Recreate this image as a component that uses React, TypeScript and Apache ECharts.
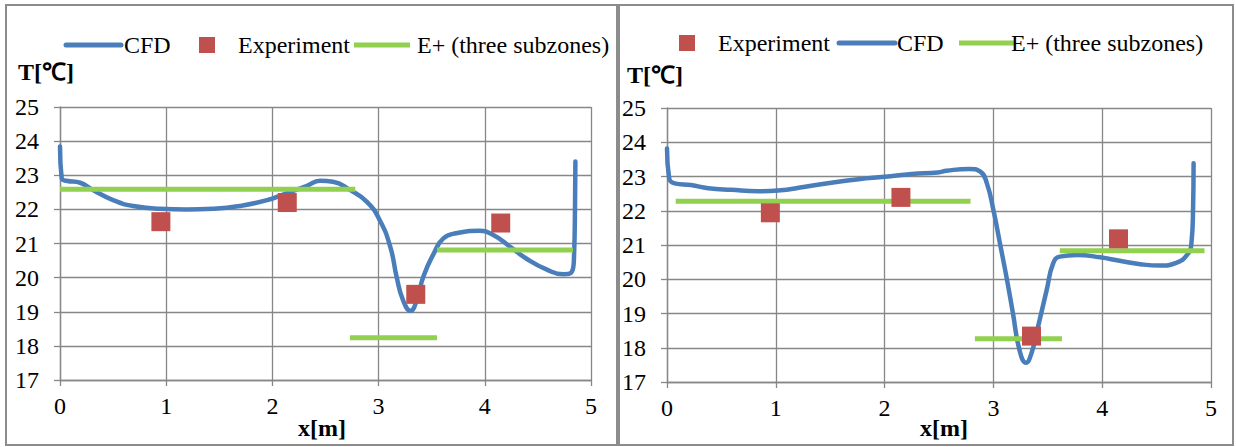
import React, { useEffect, useRef } from "react";
import * as echarts from "echarts";

// ---------- data ----------
const xTicks = [0, 1, 2, 3, 4, 5];
const yTicks = [17, 18, 19, 20, 21, 22, 23, 24, 25];

const cfdLeftX = [0, 0.016, 0.06, 0.19, 0.31, 0.5, 0.69, 0.94, 1.19, 1.44, 1.69, 1.95, 2.13, 2.32, 2.45, 2.57, 2.73, 2.89, 3.01, 3.11, 3.17, 3.23, 3.3, 3.36, 3.42, 3.52, 3.61, 3.73, 3.95, 4.08, 4.24, 4.39, 4.58, 4.74, 4.82, 4.84, 4.85, 4.853];
const cfdLeftT = [23.84, 22.91, 22.84, 22.78, 22.57, 22.27, 22.1, 22.02, 22.0, 22.02, 22.1, 22.27, 22.47, 22.68, 22.84, 22.81, 22.57, 22.22, 21.69, 20.9, 20.02, 19.34, 19.03, 19.34, 20.02, 20.71, 21.15, 21.3, 21.37, 21.25, 20.9, 20.56, 20.24, 20.1, 20.17, 20.61, 22.27, 23.4];

const expLeftX = [0.95, 2.14, 3.35, 4.15];
const expLeftT = [21.64, 22.2, 19.51, 21.6];

const ePlusLeftStart = [0, 2.73, 3.55];
const ePlusLeftEnd = [2.78, 3.55, 4.83];
const ePlusLeftT = [22.59, 18.24, 20.81];

const cfdRightX = [0, 0.02, 0.07, 0.22, 0.38, 0.59, 0.84, 1.02, 1.27, 1.51, 1.76, 2.0, 2.25, 2.49, 2.57, 2.78, 2.88, 2.94, 3.0, 3.06, 3.12, 3.18, 3.24, 3.3, 3.35, 3.41, 3.49, 3.55, 3.61, 3.77, 3.98, 4.16, 4.35, 4.53, 4.68, 4.78, 4.82, 4.835, 4.84];
const cfdRightT = [23.82, 22.95, 22.8, 22.75, 22.66, 22.61, 22.57, 22.59, 22.7, 22.82, 22.92, 22.99, 23.07, 23.12, 23.17, 23.22, 23.14, 22.8, 22.02, 21.05, 20.07, 19.0, 17.93, 17.56, 17.84, 18.61, 19.69, 20.47, 20.66, 20.71, 20.64, 20.54, 20.44, 20.4, 20.48, 20.71, 21.05, 22.02, 23.39];

const expRightX = [0.95, 2.15, 3.35, 4.15];
const expRightT = [21.94, 22.39, 18.34, 21.18];

const ePlusRightStart = [0.08, 2.83, 3.61];
const ePlusRightEnd = [2.79, 3.63, 4.94];
const ePlusRightT = [22.28, 18.26, 20.83];

const NAME_CFD = "CFD";
const NAME_EXP = "Experiment";
const NAME_EP = "E+ (three subzones)";
const Y_NAME = "T[℃]";
const X_NAME = "x[m]";

// ---------- styles ----------
const FONT = "Liberation Serif";
const BLUE = "#4A7EBB";
const RED = "#C0504D";
const GREEN = "#92D050";
const GRID = "#878787";

const zip = (xs: number[], ys: number[]) => xs.map((x, i) => [x, ys[i]]);

const tickRich = { t: { fontFamily: FONT, fontSize: 24, color: "#000" } };

function makeAxes(gridIndex: number) {
  const common = {
    axisLine: { show: true, lineStyle: { color: GRID, width: 1.3 } },
    axisTick: { show: true, length: 6, lineStyle: { color: GRID, width: 1.3 } },
    splitLine: { show: true, lineStyle: { color: GRID, width: 1.3 } },
  };
  const x = {
    type: "value",
    gridIndex,
    min: xTicks[0],
    max: xTicks[xTicks.length - 1],
    interval: 1,
    ...common,
    axisLabel: {
      color: "#000",
      fontFamily: FONT,
      fontSize: 24,
      margin: 14,
      formatter: (v: number) => `{t|${v}}`,
      rich: tickRich,
    },
  };
  const y = {
    type: "value",
    gridIndex,
    min: yTicks[0],
    max: yTicks[yTicks.length - 1],
    interval: 1,
    ...common,
    axisLabel: {
      color: "#000",
      fontFamily: FONT,
      fontSize: 24,
      margin: 21,
      formatter: (v: number) => `{t|${v}}`,
      rich: tickRich,
    },
  };
  return { x, y };
}

function cfdSeries(idx: number, xs: number[], ts: number[]) {
  return {
    name: NAME_CFD,
    type: "line",
    xAxisIndex: idx,
    yAxisIndex: idx,
    data: zip(xs, ts),
    smooth: 0.5,
    showSymbol: false,
    symbol: "none",
    lineStyle: { color: BLUE, width: 4.5, cap: "round", join: "round" },
    itemStyle: { color: BLUE },
    z: 2,
  };
}

function expSeries(idx: number, xs: number[], ts: number[]) {
  return {
    name: NAME_EXP,
    type: "scatter",
    xAxisIndex: idx,
    yAxisIndex: idx,
    data: zip(xs, ts),
    symbol: "rect",
    symbolSize: 19,
    itemStyle: { color: RED, opacity: 1 },
    z: 2,
  };
}

function ePlusSeries(idx: number, starts: number[], ends: number[], ts: number[]) {
  return starts.map((s, i) => ({
    name: NAME_EP,
    type: "line",
    xAxisIndex: idx,
    yAxisIndex: idx,
    data: [
      [s, ts[i]],
      [ends[i], ts[i]],
    ],
    showSymbol: false,
    symbol: "none",
    lineStyle: { color: GREEN, width: 5, cap: "butt" },
    itemStyle: { color: GREEN },
    z: 2,
  }));
}

function legendLine(x1: number, x2: number, y: number, color: string, cap: string) {
  return {
    type: "line",
    shape: { x1, y1: y, x2, y2: y },
    style: { stroke: color, lineWidth: 5, lineCap: cap },
    z: 10,
  };
}
function legendText(x: number, y: number, text: string) {
  return {
    type: "text",
    x,
    y,
    style: { text, fill: "#000", fontSize: 24, fontFamily: FONT, verticalAlign: "middle", align: "left" },
    z: 10,
  };
}
function legendSquare(x: number, y: number) {
  return {
    type: "rect",
    shape: { x, y: y - 8, width: 16, height: 16 },
    style: { fill: RED },
    z: 10,
  };
}
function axisName(x: number, y: number, text: string, align: string) {
  return {
    type: "text",
    x,
    y,
    style: { text, fill: "#000", fontSize: 24, fontWeight: "bold", fontFamily: FONT, verticalAlign: "middle", align },
    z: 10,
  };
}

export default function App() {
  const ref = useRef<HTMLDivElement>(null);

  useEffect(() => {
    if (!ref.current) return;
    const chart = echarts.init(ref.current, undefined, { renderer: "svg" });
    const a0 = makeAxes(0);
    const a1 = makeAxes(1);

    const option = {
      animation: false,
      backgroundColor: "#fff",
      textStyle: { fontFamily: FONT },
      grid: [
        { left: 60, top: 107, width: 531, height: 273 },
        { left: 667, top: 108, width: 544, height: 274 },
      ],
      xAxis: [a0.x, a1.x],
      yAxis: [a0.y, a1.y],
      series: [
        cfdSeries(0, cfdLeftX, cfdLeftT),
        expSeries(0, expLeftX, expLeftT),
        ...ePlusSeries(0, ePlusLeftStart, ePlusLeftEnd, ePlusLeftT),
        expSeries(1, expRightX, expRightT),
        cfdSeries(1, cfdRightX, cfdRightT),
        ...ePlusSeries(1, ePlusRightStart, ePlusRightEnd, ePlusRightT),
      ],
      graphic: [
        // panel borders
        { type: "rect", shape: { x: 6, y: 5, width: 611, height: 440 }, style: { fill: "none", stroke: "#8c8c8c", lineWidth: 2 }, z: 0 },
        { type: "rect", shape: { x: 619, y: 5, width: 614, height: 440 }, style: { fill: "none", stroke: "#8c8c8c", lineWidth: 2 }, z: 0 },
        // left legend
        legendLine(66, 121, 45, BLUE, "round"),
        legendText(124, 45, NAME_CFD),
        legendSquare(199, 45),
        legendText(238, 45, NAME_EXP),
        legendLine(354, 410, 45, GREEN, "butt"),
        legendText(417, 45, NAME_EP),
        // right legend
        legendSquare(679, 43),
        legendText(718, 43, NAME_EXP),
        legendLine(839, 895, 43, BLUE, "round"),
        legendText(897, 43, NAME_CFD),
        legendLine(959, 1014, 43, GREEN, "butt"),
        legendText(1011, 43, NAME_EP),
        // axis names
        axisName(18, 72, Y_NAME, "left"),
        axisName(627, 75, Y_NAME, "left"),
        axisName(322, 428, X_NAME, "center"),
        axisName(944, 428, X_NAME, "center"),
      ],
    };
    chart.setOption(option as any);
    return () => chart.dispose();
  }, []);

  return (
    <div
      ref={ref}
      style={{ position: "fixed", left: 0, top: 0, width: 1236, height: 447, background: "#fff" }}
    />
  );
}
